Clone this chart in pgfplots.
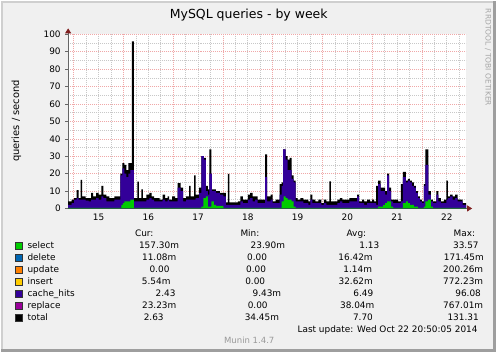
\documentclass[border=0pt]{standalone}
\usepackage{fontspec}
\setmainfont{DejaVu Sans}
\usepackage{pgfplots}
\pgfplotsset{compat=1.18}
\usepackage{pgfplotstable}
\usetikzlibrary{arrows.meta}

\definecolor{bgc}{HTML}{F0F0F0}
\definecolor{lightedge}{HTML}{CFCFCF}
\definecolor{darkedge}{HTML}{9E9E9E}
\definecolor{mgrid}{HTML}{F0A8A8}
\definecolor{ngrid}{HTML}{C8C8C8}
\definecolor{arrowc}{HTML}{7F1F1F}
\definecolor{cselect}{HTML}{00CC00}
\definecolor{cdelete}{HTML}{0066B3}
\definecolor{cupdate}{HTML}{FF8000}
\definecolor{cinsert}{HTML}{FFCC00}
\definecolor{ccache}{HTML}{330099}
\definecolor{creplace}{HTML}{990099}
\definecolor{ctotal}{HTML}{000000}

% x = position in 1/50 day (28.8 min) from Oct 15 00:00
\pgfplotstableread{
x y
-5.5 4
-2 5
0.5 6
3 10.5
5 6
7 16.4
8.5 7
12 6
17.5 9
19.5 7
22.5 9
25 8
28 13
30 8
33 7
36 6
41 7
47 20
49 26
51 25
53 22
55 26
58.5 96
60.5 6
64 15.4
65.5 6
68 11
69.5 6
73 8
76 9
78.5 7
81 6
86.5 5
89.5 8
92 6
94.5 7
96 5
99 7
102 6
104.5 14.5
107.5 12
110 6
113 7
116 13
117.5 7
121 19
122.5 8
126 12
128.5 30
131 29
133 13
135 11
136.5 34
138.5 11
143 10
147 9
153 3.5
155 19.8
156.5 3.5
165 4
167.5 7
170 5
175 8
177.5 9
180 7
185 5
192.5 31
194.5 7
198 8
200 4
203 5
207 14
209 15
210.5 34
213 30
215 28
217 29
219 19
221 16
223 6
225 5
228 6
231 5
236 4
238 8
240 5
243 4
246 5
249 3
251.5 5
254 4
257 15.6
258.5 4
265 5
267.5 6
270 5
277 6
285 8
287 4
290 5
292 4
295 5
298 4
300 5
302 4
304 13
306 16
308.5 12
313 10
315 20
317 12
319 5
326 4
329 14
331 21
334 16
336 17
338 16
340 15
342 13
344 10
346 7
348 5
350 4
352 14
353.5 34
356.5 10
359 5
361 4
364.5 10
366.5 6
369 4
372 5
374.5 16
376 7
378.5 8
381 7
383.5 8
386 5
391 3
394.5 3
}\totaldata

\pgfplotstableread{
x y
-5.5 2
-2 3
0.5 5
3 6
5 5
12 4.5
15 4
17.5 5
22.5 6
25 5
28 7
30 6
33 4
41 5
47 19
49 23
51 20
53 18
55 20
57 22
60.5 4
73 5
76 6
78.5 5
81 4
89.5 5
92 4
94.5 5
96 4
104.5 12
107.5 10
110 4
113 5
122.5 6
126 9
128.5 30
131 28
133 10
135 8
136.5 20
139 10
143 9
147 8
150.5 7
153 2
167.5 4
170 3
175 5
177.5 6
180 4
182.5 5
185 3
192.5 18
194.5 4
198 5
200 3
207 8
209 13
210.5 34
213 28
215 22
219 17
221 15
223 4
231 3
236 2
238 5
240 3
249 2
251.5 3
254 2
265 3
267.5 4
270 3
277 4
285 7
287 3
292 2
295 3
304 2
306 14
308.5 10
313 8
315 19
317 10
319 4
321 3
329 4
331 18
334 15
336 16
338 15
340 13
342 12
344 9
346 6
348 4
350 3
352 13
353.5 25
356.5 8
359 4
361 3
364.5 8
366.5 4
369 3
374.5 5
376 6
378.5 7
381 5
383.5 6
386 4
391 2
394.5 2
}\cachedata

\pgfplotstableread{
x y
-5.5 0.4
48 2
49.5 3
51 4
57 5
60.5 0.4
128.5 1
130.5 6
133 7
135 1
138.5 4
141 2
143 1.5
150.5 0.4
209 4
211 7
213 6
215 5
219 4
221 1
223 0.4
306 1
311 2
313 3
315 4
319 1
321 0.4
331 3
334 4
336 3
338 2
342 1
346 0.4
352 1
353.5 4
356 5
359 1
361 0.4
394.5 0.4
}\selectdata

\newcommand{\sm}{\fontsize{9}{10.5}\selectfont}

\begin{document}
\begin{tikzpicture}[x=1bp,y=1bp]
\fill[bgc] (0,0) rectangle (497,352);
\draw[lightedge, line width=2bp] (1,0)--(1,351)--(497,351);
\draw[darkedge, line width=3bp] (0,1.5)--(495.5,1.5)--(495.5,352);
\useasboundingbox (0,0) rectangle (497,352);

\begin{axis}[
  at={(67bp,144bp)}, anchor=south west,
  scale only axis, width=400bp, height=175bp,
  xmin=-5.5, xmax=394.5, ymin=0, ymax=100,
  axis background/.style={fill=white},
  axis x line*=bottom, axis y line*=left,
  x axis line style={draw=gray!80!black, line width=0.8bp, -{Triangle[color=arrowc,length=5bp,width=6bp]}, shorten >=-6bp},
  y axis line style={draw=gray!80!black, line width=0.8bp, -{Triangle[color=arrowc,length=5bp,width=6bp]}, shorten >=-6bp},
  xtick={25,75,...,375},
  xticklabels={15,16,17,18,19,20,21,22},
  x tick style={draw=none},
  minor xtick={12.5,25,...,387.5},
  xminorgrids=true,
  extra x ticks={0,50,...,350},
  extra x tick labels={},
  extra x tick style={grid=major, tick style={draw=none}},
  ytick={0,10,...,100},
  minor ytick={5,15,...,95},
  ymajorgrids=true, yminorgrids=true,
  y tick style={draw=gray!80!black, line width=0.6bp},
  major tick length=3bp, minor tick length=0bp,
  tick align=outside,
  major grid style={draw=mgrid, line width=0.6bp, dash pattern=on 1bp off 1bp},
  minor grid style={draw=ngrid, line width=0.6bp, dash pattern=on 1bp off 1bp},
  tick label style={font=\sm, text=black},
  /pgf/number format/assume math mode=true,
  xticklabel style={yshift=1bp},
  yticklabel style={xshift=-1bp},
]
\addplot[const plot, fill=ctotal, draw=none] table[x=x,y=y] {\totaldata} \closedcycle;
\addplot[const plot, fill=ccache, draw=none] table[x=x,y=y] {\cachedata} \closedcycle;
\addplot[const plot, fill=cselect, draw=none] table[x=x,y=y] {\selectdata} \closedcycle;
\end{axis}

% title and axis label
\node[font=\fontsize{12.6}{14}\selectfont] at (248.5,338) {MySQL queries - by week};
\node[font=\fontsize{10}{12}\selectfont, rotate=90] at (15,232) {queries / second};
\node[font=\fontsize{7.6}{9}\selectfont, text=black!35, rotate=-90, anchor=west] at (489,348) {RRDTOOL / TOBI OETIKER};

% legend
\begin{scope}[font=\sm]
\node[anchor=mid] at (143.5,119) {Cur:};
\node[anchor=mid] at (249.7,119) {Min:};
\node[anchor=mid] at (356.7,119) {Avg:};
\node[anchor=mid] at (465.3,119) {Max:};
\foreach \c/\lab/\yy/\cu/\cx/\mi/\mx/\av/\ax/\ma/\maxx in {
  cselect/select/106.3/157.30m/158.3/23.90m/267.7/1.13/369.7/33.57/466.7,
  cdelete/delete/94.3/11.08m/158.5/0.00/256.8/16.42m/355.8/171.45m/464.7,
  cupdate/update/82.3/0.00/158.8/0.00/255.8/1.14m/358/200.26m/464,
  cinsert/insert/70.3/5.54m/155.5/0.00/255/32.62m/356/772.23m/464,
  ccache/cache\_hits/58.3/2.43/165/9.43m/266.7/6.49/363.7/96.08/469,
  creplace/replace/46.3/23.23m/158.5/0.00/257.5/38.04m/357.5/767.01m/464,
  ctotal/total/34.3/2.63/153/34.45m/261.7/7.70/363.3/131.31/464}{
  \filldraw[fill=\c, draw=black!80, line width=0.5bp] (13.5,\yy-3.5) rectangle ++(7,7);
  \node[anchor=mid west, inner sep=0] at (26,\yy) {\lab};
  \node[anchor=mid] at (\cx,\yy) {\cu};
  \node[anchor=mid] at (\mx,\yy) {\mi};
  \node[anchor=mid] at (\ax,\yy) {\av};
  \node[anchor=mid] at (\maxx,\yy) {\ma};
}
\node[anchor=mid] at (388,22.3) {Last update: Wed Oct 22 20:50:05 2014};
\end{scope}
\node[font=\fontsize{8.6}{10}\selectfont, text=black!40, anchor=mid] at (249,11) {Munin 1.4.7};
\end{tikzpicture}
\end{document}
